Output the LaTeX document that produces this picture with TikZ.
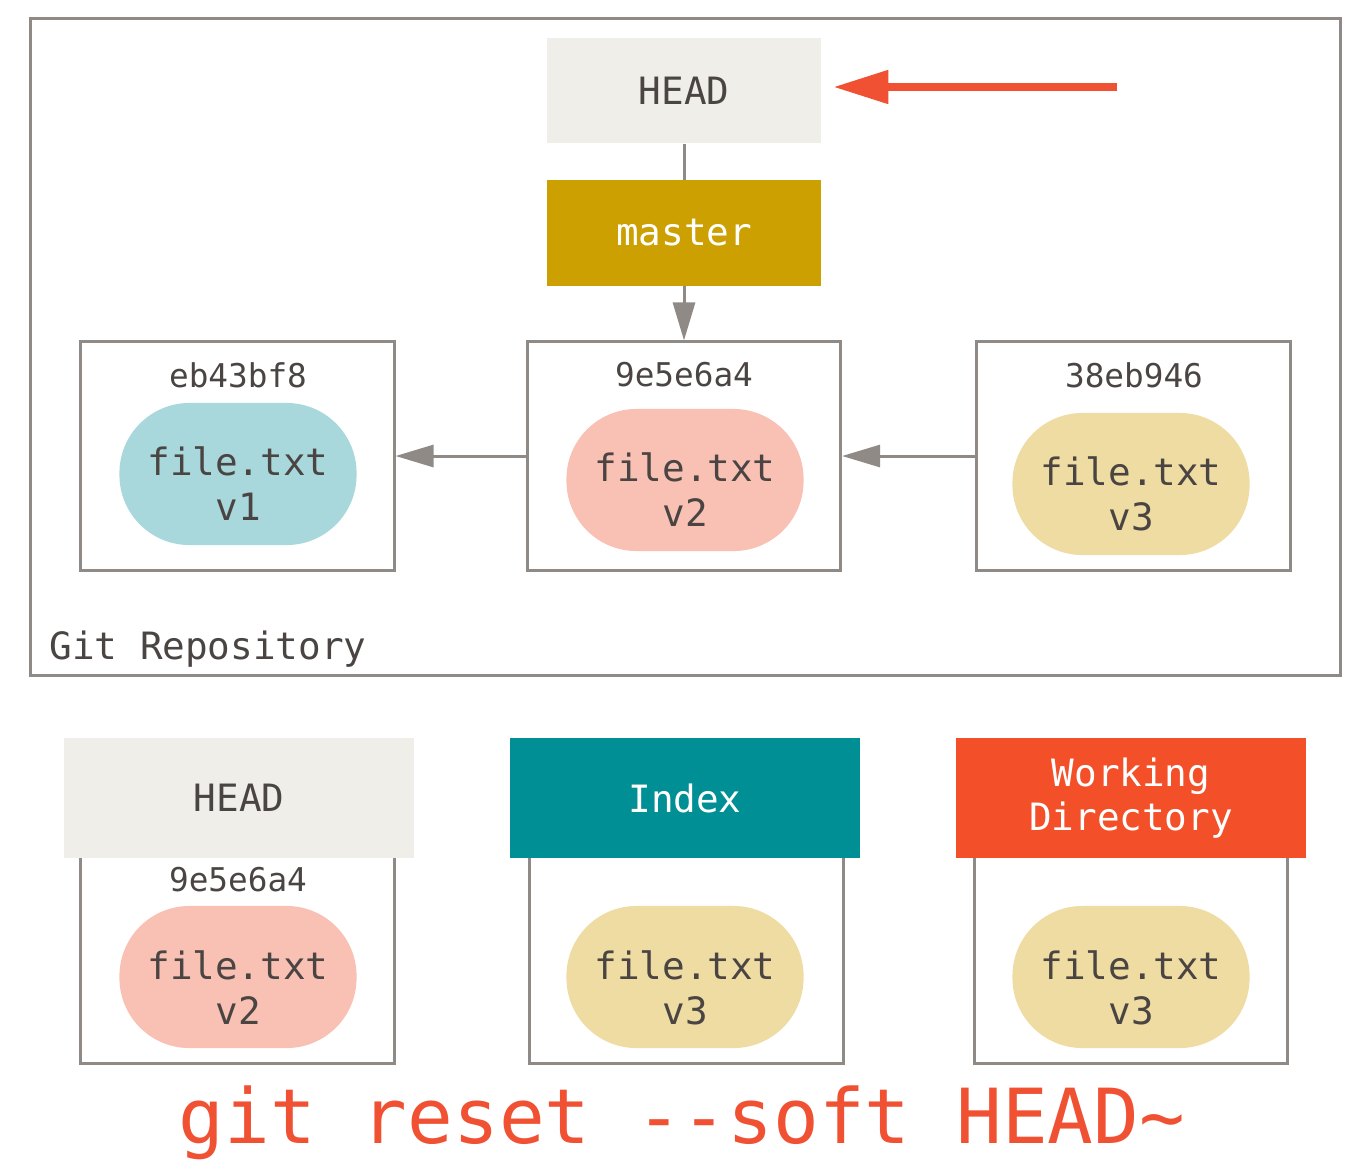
\documentclass[tikz,border=0pt]{standalone}
\usepackage{fontspec}
\setmonofont{DejaVu Sans Mono}
\usetikzlibrary{arrows.meta}
\definecolor{txtdark}{HTML}{4A4542}
\definecolor{linegray}{HTML}{8F8A85}
\definecolor{headfill}{HTML}{EFEEE8}
\definecolor{masterfill}{HTML}{CCA000}
\definecolor{indexfill}{HTML}{008F94}
\definecolor{wdfill}{HTML}{F34F29}
\definecolor{redarr}{HTML}{F05133}
\definecolor{blobblue}{HTML}{A8D8DC}
\definecolor{blobpink}{HTML}{F9C0B4}
\definecolor{blobyellow}{HTML}{EEDCA3}
\tikzset{
  lbl/.style={font=\ttfamily\fontsize{10.7}{12.8}\selectfont, text=txtdark},
  hashlbl/.style={font=\ttfamily\fontsize{9.3}{11}\selectfont, text=txtdark},
  tagbox/.style={draw=none, minimum width=2.73cm, minimum height=1.05cm, inner sep=0pt, align=center},
  bigtag/.style={draw=none, minimum width=3.5cm, minimum height=1.2cm, inner sep=0pt, align=center},
  commitbox/.style={draw=linegray, line width=0.85pt, fill=white, minimum width=3.13cm, minimum height=2.28cm, inner sep=0pt},
  lowbox/.style={draw=linegray, line width=0.85pt, fill=white, minimum width=3.13cm, minimum height=2.13cm, inner sep=0pt},
  blob/.style={rounded corners=0.7cm, minimum width=2.37cm, minimum height=1.42cm, inner sep=0pt},
  blobtext/.style={align=center, inner sep=0pt, lbl},
  garrow/.style={draw=linegray, line width=0.85pt, -{Triangle[length=0.38cm,width=0.22cm]}},
  gline/.style={draw=linegray, line width=0.85pt},
  redarrow/.style={draw=redarr, line width=0.08cm, -{Triangle[length=0.55cm,width=0.32cm]}},
}
\begin{document}
\begin{tikzpicture}[x=0.01cm,y=-0.01cm]
\useasboundingbox (0,0) rectangle (1352,1172);
% repository frame
\node[draw=linegray, line width=0.75pt, minimum width=13.09cm, minimum height=6.56cm, inner sep=0pt] (repo) at (685.5,347) {};
\node[lbl, anchor=west] (repolbl) at (37,649) {Git Repository};
% HEAD and master
\node[tagbox, fill=headfill, lbl] (head) at (684,90.5) {HEAD};
\node[tagbox, fill=masterfill, lbl, text=white] (master) at (684,233) {master};
% commits
\node[commitbox] (c1) at (237.5,456) {};
\node[commitbox] (c2) at (684,456) {};
\node[commitbox] (c3) at (1133.5,456) {};
\node[hashlbl] (h1) at (238,375) {eb43bf8};
\node[hashlbl] (h2) at (684,375) {9e5e6a4};
\node[hashlbl] (h3) at (1134,375) {38eb946};
\node[blob, fill=blobblue] (b1) at (238,474) {};
\node[blob, fill=blobpink] (b2) at (685,480) {};
\node[blob, fill=blobyellow] (b3) at (1131,484) {};
\node[blobtext] (t1) at (238,484) {file.txt\\v1};
\node[blobtext] (t2) at (685,490) {file.txt\\v2};
\node[blobtext] (t3) at (1131,494) {file.txt\\v3};
% connectors
\draw[gline] (head.south) -- (master.north);
\draw[garrow] (master.south) -- (c2.north);
\draw[garrow] (c2.west) -- (c1.east);
\draw[garrow] (c3.west) -- (c2.east);
\coordinate (rstart) at (1117,87);
\draw[redarrow, shorten >=0.12cm] (rstart) -- (rstart -| head.east);
% bottom: three areas
\node[lowbox] (lb1) at (237.5,957) {};
\node[lowbox] (lb2) at (686.5,957) {};
\node[lowbox] (lb3) at (1131,957) {};
\node[bigtag, fill=headfill, lbl] (headB) at (239,798) {HEAD};
\node[bigtag, fill=indexfill, lbl, text=white] (index) at (685,798) {Index};
\node[bigtag, fill=wdfill, lbl, text=white, font=\ttfamily\fontsize{10.7}{12.4}\selectfont] (wd) at (1131,798) {Working\\Directory};
\node[hashlbl] (h4) at (238,880) {9e5e6a4};
\node[blob, fill=blobpink] (b4) at (238,977) {};
\node[blob, fill=blobyellow] (b5) at (685,977) {};
\node[blob, fill=blobyellow] (b6) at (1131,977) {};
\node[blobtext] (t4) at (238,988) {file.txt\\v2};
\node[blobtext] (t5) at (685,988) {file.txt\\v3};
\node[blobtext] (t6) at (1131,988) {file.txt\\v3};
% command
\node[font=\ttfamily\fontsize{21.6}{24}\selectfont, text=redarr] (cmd) at (682,1123) {git reset --soft HEAD\textasciitilde};
\end{tikzpicture}
\end{document}
